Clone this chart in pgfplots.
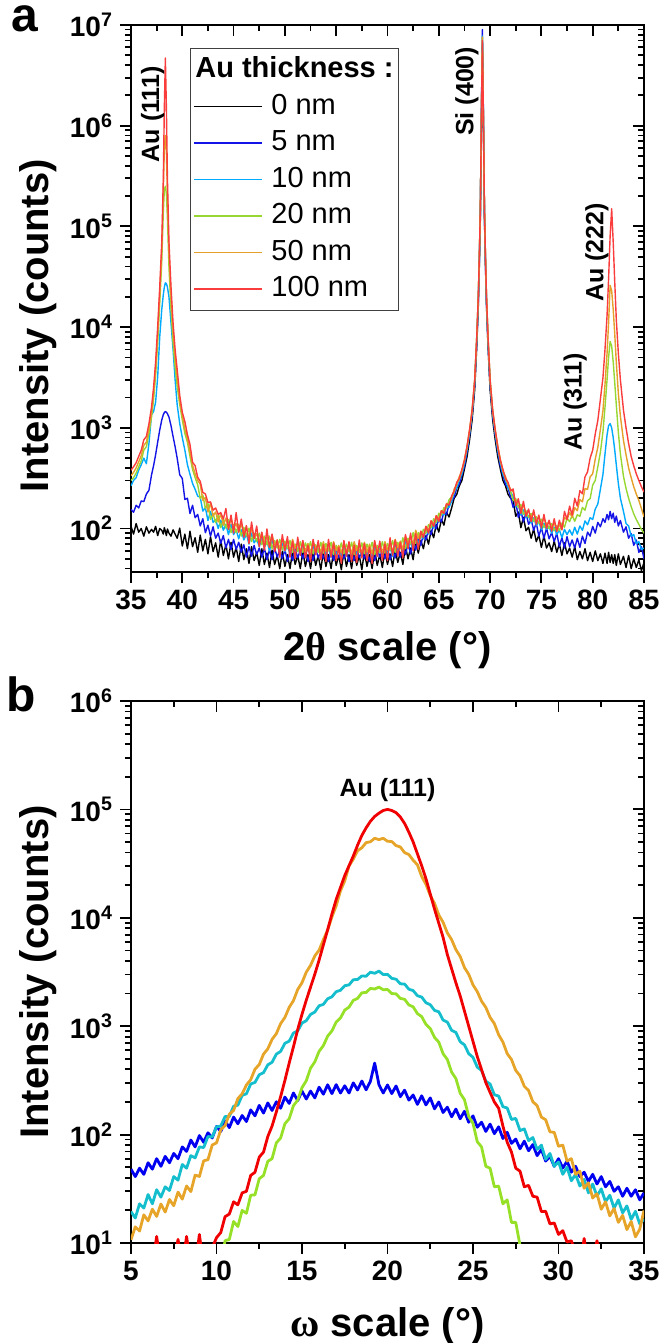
\documentclass[border=0pt]{standalone}
\usepackage{fontspec}
\setmainfont{Liberation Sans}
\newfontfamily\grk{Liberation Serif}
\usepackage{pgfplots}
\usepackage{pgfplotstable}
\pgfplotsset{compat=1.18}

% panel a colours
\definecolor{colAzero}{RGB}{0,0,0}
\definecolor{colAfive}{RGB}{20,20,230}
\definecolor{colAten}{RGB}{0,170,255}
\definecolor{colAtwenty}{RGB}{150,215,50}
\definecolor{colAfifty}{RGB}{228,160,40}
\definecolor{colAhundred}{RGB}{250,60,60}
% panel b colours
\definecolor{colBfive}{RGB}{0,0,240}
\definecolor{colBten}{RGB}{20,190,205}
\definecolor{colBtwenty}{RGB}{150,225,40}
\definecolor{colBfifty}{RGB}{230,165,40}
\definecolor{colBhundred}{RGB}{240,0,0}

\newcommand\tickfont{\fontsize{14}{16}\selectfont\bfseries}
\newcommand\labfont{\fontsize{20}{24}\selectfont\bfseries}
\newcommand\annfont{\fontsize{12.5}{15}\selectfont\bfseries}

% 2theta scan: 0, 5, 10, 20, 50, 100 nm
\pgfplotstableread{
x k b c g o r
35.00 105 155 265 300 335 380
35.25 88 145 300 320 360 410
35.50 112 170 320 355 400 450
35.75 92 160 380 410 460 520
36.00 100 188 430 470 530 600
36.25 84 185 500 600 670 760
36.50 104 220 440 650 720 820
36.75 90 240 700 880 970 1100
37.00 98 340 1350 1280 1410 1600
37.20 92 420 1450 1900 2200 2500
37.40 105 540 1800 3300 3900 4500
37.60 85 720 3200 7000 8500 10000
37.80 100 950 8000 17000 21000 25000
38.00 96 1200 15000 45000 58000 70000
38.15 88 1350 21000 140000 220000 300000
38.25 102 1420 25000 230000 600000 1500000
38.35 94 1450 27500 250000 800000 4700000
38.45 85 1430 27000 210000 550000 1500000
38.55 99 1380 25000 120000 200000 300000
38.70 90 1280 20000 40000 55000 70000
38.90 84 1050 11000 15000 20000 25000
39.10 97 820 6000 7000 9000 11000
39.30 88 650 3000 4000 5000 6000
39.50 80 500 1700 2600 3200 3800
39.75 101 342 1100 1700 1850 2100
40.00 67 314 800 1200 1320 1425
40.25 88 194 600 880 970 1155
40.50 63 200 430 720 790 855
40.75 94 141 345 520 575 683
41.00 66 170 280 385 425 456
41.25 81 128 245 320 350 420
41.50 58 138 210 272 300 323
41.75 86 106 204 198 276 294
42.00 60 125 149 215 191 228
42.25 78 91 161 158 203 221
42.50 56 108 120 177 146 181
42.75 83 84 148 123 179 184
43.00 59 104 115 140 133 152
43.25 72 80 123 114 146 160
43.50 52 90 100 136 116 138
43.75 77 71 121 102 141 144
44.00 54 85 96 123 108 124
44.25 69 64 110 101 127 158
44.50 50 78 87 123 99 98
44.75 73 62 110 91 128 136
45.00 52 78 87 110 101 90
45.25 65 62 97 91 112 144
45.50 47 73 79 110 92 92
45.75 70 58 97 84 113 124
46.00 49 69 77 103 88 82
46.25 63 52 88 84 103 107
46.50 45 66 70 101 79 71
46.75 66 53 90 74 101 116
47.00 48 68 72 89 80 79
47.25 58 55 79 74 89 106
47.50 43 64 66 90 73 66
47.75 63 52 80 69 91 92
48.00 44 64 65 84 71 61
48.25 57 49 75 69 84 99
48.50 41 62 60 84 65 65
48.75 61 49 77 63 86 88
49.00 44 64 63 76 68 59
49.25 54 52 70 64 77 77
49.50 40 61 58 78 63 52
49.75 59 50 72 61 80 87
50.00 42 62 59 75 63 60
50.25 55 47 68 63 75 83
50.50 40 59 55 76 59 52
50.75 60 48 71 58 78 75
51.00 44 63 58 70 63 50
51.25 54 51 64 59 70 82
51.50 40 61 55 74 59 54
51.75 59 50 68 58 75 76
52.00 42 62 55 72 59 51
52.25 55 47 65 60 71 68
52.50 40 59 52 74 57 47
52.75 60 48 68 56 75 78
53.00 43 63 56 69 61 55
53.25 54 51 63 58 69 76
53.50 39 60 54 73 58 49
53.75 59 50 67 57 74 69
54.00 42 62 55 71 59 47
54.25 55 47 64 60 70 78
54.50 40 59 52 73 56 52
54.75 60 48 67 55 74 72
55.00 43 63 55 68 60 48
55.25 54 51 62 58 68 65
55.50 39 60 53 72 57 45
55.75 59 50 66 56 73 76
56.00 42 62 54 70 58 53
56.25 55 47 64 59 70 74
56.50 40 59 52 73 56 47
56.75 60 48 67 55 74 68
57.00 43 63 55 68 60 46
57.25 54 51 62 58 68 77
57.50 39 60 53 72 57 51
57.75 59 50 66 56 73 71
58.00 42 62 54 70 58 48
58.25 55 47 64 59 70 65
58.50 40 59 52 73 56 45
58.75 60 48 67 55 74 76
59.00 43 63 55 68 60 53
59.25 55 52 63 58 69 75
59.50 41 61 54 74 58 48
59.75 60 50 67 57 74 70
60.00 44 64 56 71 61 48
60.25 56 49 65 61 72 81
60.50 42 62 53 76 58 54
60.75 62 51 70 58 78 77
61.00 46 68 59 73 64 53
61.25 58 52 68 63 75 73
61.50 44 66 57 81 62 51
61.75 67 55 75 63 84 87
62.00 50 72 63 80 70 63
62.25 64 56 73 70 82 90
62.50 49 72 62 91 70 60
62.75 76 61 83 71 96 89
63.00 57 83 70 91 80 62
63.25 76 68 86 81 94 94
63.50 63 89 79 98 86 81
63.75 85 77 96 90 105 105
64.00 70 99 88 109 96 90
64.25 96 87 109 102 119 119
64.50 81 113 101 125 110 104
64.75 110 99 124 115 134 134
65.00 92 129 115 142 125 117
65.25 123 116 140 136 151 150
65.50 108 146 136 161 146 141
65.75 145 137 165 160 177 175
66.00 130 175 162 193 176 171
66.25 160 186 188 206 198 210
66.50 200 205 230 230 246 236
66.75 218 252 255 280 272 287
67.00 265 275 305 308 328 315
67.25 300 340 350 375 372 386
67.50 390 415 450 465 485 476
67.75 515 575 600 640 645 655
68.00 760 840 885 930 950 955
68.25 1200 1320 1400 1470 1500 1500
68.50 2400 2650 2800 2950 3000 3000
68.70 6400 7000 7400 7800 8000 8000
68.85 16000 17600 18600 19600 20000 20000
68.95 40000 44000 46500 49000 50000 50000
69.05 120000 132000 140000 147000 150000 150000
69.15 1000000 1300000 1200000 1150000 1200000 1150000
69.25 6500000 9000000 7800000 7400000 7600000 7000000
69.35 1000000 1300000 1200000 1150000 1200000 1150000
69.45 120000 132000 140000 147000 150000 150000
69.55 40000 44000 46500 49000 50000 50000
69.65 16000 17600 18600 19600 20000 20000
69.80 6400 7000 7400 7800 8000 8000
70.00 2400 2650 2800 2950 3000 3000
70.25 1200 1320 1400 1470 1500 1500
70.50 760 840 885 930 950 955
70.75 515 575 600 640 645 655
71.00 390 415 450 465 485 476
71.25 300 340 350 375 372 386
71.50 265 275 305 308 328 315
71.75 218 252 255 280 272 287
72.00 200 205 230 230 246 236
72.25 190 162 208 190 232 247
72.50 132 185 164 198 181 168
72.75 146 129 170 162 191 198
73.00 102 151 136 174 153 141
73.25 129 116 153 138 172 186
73.50 95 144 128 150 141 132
73.75 103 110 134 129 151 156
74.00 80 123 113 141 127 117
74.25 99 96 128 117 144 153
74.50 74 114 107 131 119 110
74.75 86 84 118 112 131 136
75.00 65 102 97 124 109 101
75.25 84 80 113 102 128 138
75.50 64 101 98 113 107 100
75.75 72 79 104 100 118 121
76.00 59 91 90 112 101 94
76.25 75 74 103 95 114 125
76.50 58 90 87 107 97 93
76.75 70 66 97 95 109 121
77.00 54 81 81 113 98 97
77.25 72 64 98 103 129 148
77.50 56 83 87 126 122 123
77.75 64 66 97 117 145 167
78.00 52 77 86 135 129 136
78.25 66 64 103 118 161 200
78.50 49 80 88 137 150 167
78.75 59 65 106 132 194 238
79.00 50 84 96 162 184 221
79.25 63 71 119 152 249 326
79.50 48 92 109 189 245 365
79.75 58 84 128 198 326 500
80.00 47 105 123 270 350 600
80.25 60 90 156 300 490 870
80.50 48 115 175 410 640 1180
80.75 56 104 245 570 960 1920
81.00 45 125 345 910 1480 3150
81.20 57 115 550 1600 2700 6000
81.40 45 138 850 3000 5500 13000
81.55 58 122 1050 5000 11000 30000
81.70 46 148 1100 7200 26000 80000
81.85 55 125 1000 6500 23000 150000
82.00 45 142 800 4500 15000 70000
82.15 55 115 600 2800 8500 28000
82.30 43 133 430 1700 4500 12000
82.50 56 106 280 900 2200 5500
82.70 44 120 200 550 1300 3000
83.00 53 92 148 330 750 1500
83.25 41 104 112 250 540 1000
83.50 54 80 106 200 400 700
83.75 40 89 84 165 320 520
84.00 50 68 87 140 260 420
84.25 41 77 71 123 220 350
84.50 49 58 74 110 190 300
84.75 38 66 62 98 158 260
85.00 46 50 64 90 130 230
}\tabA

% omega scan: 5, 10, 20, 50, 100 nm
\pgfplotstableread{
w b c g o r
5.00 48 19.5 6 10.7 6
5.25 41 17 6 14.1 6
5.50 49 23 6 12.9 6
5.75 43 21 6 18.2 6
6.00 55 28 6 16 6
6.25 48 23 6 20.5 6
6.50 60 31 6 17.6 11.5
6.75 51 26.5 6 22.9 6
7.00 63 33 6 19.3 6
7.25 55 30.5 6 25.2 6
7.50 67 41 6 22.1 6
7.75 60 38 6 29.5 10.8
8.00 77 53 6 25.4 6
8.25 70 49 6 33.6 11.5
8.50 89 64 6 29.8 6
8.75 77 61 6 42.3 6
9.00 98 77 6 41.1 12
9.25 85 76 6 57.3 6
9.50 104 96 6 58.7 8
9.75 93 95 6 80.2 9
10.00 119 118 6 83.8 11.2
10.25 107 120 6 111 12.5
10.50 134 147 10.5 121 17.5
10.75 116 147 10.8 154 18.5
11.00 145 183 15.8 167 24
11.25 126 187 14.2 215 22.5
11.50 150 230 20 238 29
11.75 132 238 18.8 287 30
12.00 169 293 27.6 321 42
12.25 149 303 27.8 401 45
12.50 186 357 39.2 443 62
12.75 158 373 42 553 69
13.00 196 440 56.7 618 96
13.25 167 465 60 756 120
13.50 201 553 84 854 162
13.75 175 585 93 1056 224
14.00 222 696 126 1205 316
14.25 194 727 140 1491 457
14.50 242 866 185 1723 646
14.75 206 905 208 2181 933
15.00 252 1068 271 2519 1288
15.25 213 1125 314 3152 1738
15.50 252 1284 410 3641 2291
15.75 218 1352 469 4452 3020
16.00 274 1544 587 5026 4074
16.25 236 1590 662 6289 5623
16.50 288 1793 810 7695 7762
16.75 239 1867 905 10200 10839
17.00 289 2083 1093 12919 14791
17.25 242 2144 1192 17726 19055
17.50 282 2363 1408 21939 24547
17.75 242 2406 1500 30102 30200
18.00 300 2683 1732 34771 37154
18.25 258 2699 1804 41553 46774
18.50 312 2908 2035 44282 57544
18.75 259 2892 2047 49385 67608
19.00 310 3152 2232 50260 77625
19.25 457 3078 2204 54150 86099
19.50 289 3225 2294 52629 92257
19.75 242 2994 2169 54150 97724
20.00 287 3010 2181 50843 100000
20.25 239 2762 2001 50536 97724
20.50 281 2714 1989 46369 93325
20.75 224 2462 1804 45040 85114
21.00 257 2447 1773 39923 74131
21.25 208 2194 1571 38336 61660
21.50 232 2131 1509 33981 50119
21.75 190 1911 1307 30804 38905
22.00 228 1856 1226 24056 30200
22.25 188 1645 1038 20352 22909
22.50 218 1580 952 16078 16596
22.75 173 1400 788 13602 12023
23.00 200 1358 713 10622 8913
23.25 160 1140 558 9091 6607
23.50 179 1091 493 7265 4571
23.75 146 916 377 6289 3388
24.00 172 877 329 5084 2512
24.25 140 719 241 4401 1905
24.50 164 673 210 3477 1380
24.75 130 558 147 3010 1000
25.00 149 516 127 2406 724
25.25 117 419 86 2083 525
25.50 130 391 77 1703 398
25.75 107 311 51 1491 302
26.00 125 293 49 1205 245
26.25 102 233 33 1056 200
26.50 118 227 33.5 834 175
26.75 92 181 23 714 120
27.00 105 176 25 558 85
27.25 83 138 15.5 493 69
27.50 91 141 15.5 391 49
27.75 74 109 9.5 349 46
28.00 87 113 8 279 33
28.25 71 88 6 255 34
28.50 81 94 6 201 27
28.75 64 73 6 185 26.5
29.00 73 80 6 145 19.5
29.25 57 59 6 137 19.6
29.50 63 67 6 106 15
29.75 51 51 6 105 15.3
30.00 60 56 6 78 12
30.25 49 43 6 80 13
30.50 57 50 6 57 10.2
30.75 45 37.5 6 60 10.5
31.00 51 43 6 43 8
31.25 41 33.5 6 46 6
31.50 45 38.6 6 32 11
31.75 37 29 6 36 6
32.00 43 35 6 26 7
32.25 35 27 6 28.5 10.5
32.50 41 31.6 6 20.5 6
32.75 33 24 6 24 6
33.00 37 27.6 6 17.8 6
33.25 30 21 6 20.8 6
33.50 33 25 6 15.5 6
33.75 27 19 6 18 6
34.00 32 22 6 13.3 6
34.25 27 16.5 6 15.8 6
34.50 31 19.6 6 11.4 6
34.75 25 15 6 13.4 6
35.00 29 16.6 6 20 6
}\tabB

\pgfplotsset{every axis/.append style={
    scale only axis, width=256.5pt, anchor=south west,
    ymode=log, no markers, clip mode=individual,
    minor x tick num=1,
    major tick length=5.5pt, minor tick length=3pt,
    tick style={black, line width=0.9pt},
    axis line style={line width=1pt},
    ticklabel style={font=\tickfont},
    /pgf/number format/assume math mode=true,
}}

\begin{document}
\begin{tikzpicture}

% ---------- panel a: frame with inward ticks on top and right ----------
\begin{axis}[at={(0,0)}, height=273.5pt,
  xmin=35, xmax=85, ymin=37, ymax=1e7,
  xtick={35,40,...,85},
  ytick={1e2,1e3,1e4,1e5,1e6,1e7},
  minor ytick={40,50,60,70,80,90,200,300,400,500,600,700,800,900,2000,3000,4000,5000,6000,7000,8000,9000,2e4,3e4,4e4,5e4,6e4,7e4,8e4,9e4,2e5,3e5,4e5,5e5,6e5,7e5,8e5,9e5,2e6,3e6,4e6,5e6,6e6,7e6,8e6,9e6},
  tick align=inside, tick pos=right, xticklabels={}, yticklabels={}]
\end{axis}

% ---------- panel a: data ----------
\begin{axis}[at={(0,0)}, height=273.5pt,
  xmin=35, xmax=85, ymin=37, ymax=1e7,
  xtick={35,40,...,85},
  ytick={1e2,1e3,1e4,1e5,1e6,1e7},
  minor ytick={40,50,60,70,80,90,200,300,400,500,600,700,800,900,2000,3000,4000,5000,6000,7000,8000,9000,2e4,3e4,4e4,5e4,6e4,7e4,8e4,9e4,2e5,3e5,4e5,5e5,6e5,7e5,8e5,9e5,2e6,3e6,4e6,5e6,6e6,7e6,8e6,9e6},
  tick align=outside, tick pos=left,
  yticklabels={10\textsuperscript{2},10\textsuperscript{3},10\textsuperscript{4},10\textsuperscript{5},10\textsuperscript{6},10\textsuperscript{7}},
  legend style={at={(axis description cs:0.115,0.958)}, anchor=north west,
    draw=black!75, line width=0.6pt, fill=white,
    font=\fontsize{14.5}{17}\selectfont,
    inner xsep=1.5pt, inner ysep=3pt, row sep=2.75pt, column sep=3pt,
    nodes={inner sep=1pt, text height=10.5pt, text depth=3pt}},
  legend cell align=left,
  legend image code/.code={\draw[#1, line width=0.9pt] (0pt,0pt) -- (34pt,0pt);},
]
\addlegendimage{empty legend}
\addlegendentry{\hspace*{-38pt}\textbf{Au thickness :}}
\addplot[color=colAzero, line width=0.7pt, line join=round] table[x=x, y=k] {\tabA};
\addlegendentry{0 nm}
\addplot[color=colAfive, line width=0.7pt, line join=round] table[x=x, y=b] {\tabA};
\addlegendentry{5 nm}
\addplot[color=colAten, line width=0.7pt, line join=round] table[x=x, y=c] {\tabA};
\addlegendentry{10 nm}
\addplot[color=colAtwenty, line width=0.7pt, line join=round] table[x=x, y=g] {\tabA};
\addlegendentry{20 nm}
\addplot[color=colAfifty, line width=0.7pt, line join=round] table[x=x, y=o] {\tabA};
\addlegendentry{50 nm}
\addplot[color=colAhundred, line width=0.7pt, line join=round] table[x=x, y=r] {\tabA};
\addlegendentry{100 nm}

\node[rotate=90, font=\annfont] at (axis cs:37.1,1.3e6) {Au (111)};
\node[rotate=90, font=\annfont] at (axis cs:67.75,2.2e6) {Si (400)};
\node[rotate=90, font=\annfont] at (axis cs:80.4,5.5e4) {Au (222)};
\node[rotate=90, font=\annfont] at (axis cs:78.3,1800) {Au (311)};

\node[rotate=90, font=\labfont] at ([xshift=-46.5pt]axis description cs:0,0.45) {Intensity (counts)};
\node[font=\labfont] at ([yshift=-39pt]axis description cs:0.5,0) {2{\grk\bfseries θ} scale (°)};
\node[font=\fontsize{24}{28}\selectfont\bfseries, inner sep=0pt, anchor=base] at ([xshift=-53pt,yshift=-3.5pt]axis description cs:0,1) {a};
\end{axis}

% ---------- panel b: frame ----------
\begin{axis}[at={(0,-335.5pt)}, height=271pt,
  xmin=5, xmax=35, ymin=10, ymax=1e6,
  xtick={5,10,...,35},
  ytick={1e1,1e2,1e3,1e4,1e5,1e6},
  minor ytick={20,30,40,50,60,70,80,90,200,300,400,500,600,700,800,900,2000,3000,4000,5000,6000,7000,8000,9000,2e4,3e4,4e4,5e4,6e4,7e4,8e4,9e4,2e5,3e5,4e5,5e5,6e5,7e5,8e5,9e5},
  tick align=inside, tick pos=right, xticklabels={}, yticklabels={}]
\end{axis}

% ---------- panel b: data ----------
\begin{axis}[at={(0,-335.5pt)}, height=271pt,
  xmin=5, xmax=35, ymin=10, ymax=1e6,
  xtick={5,10,...,35},
  ytick={1e1,1e2,1e3,1e4,1e5,1e6},
  minor ytick={20,30,40,50,60,70,80,90,200,300,400,500,600,700,800,900,2000,3000,4000,5000,6000,7000,8000,9000,2e4,3e4,4e4,5e4,6e4,7e4,8e4,9e4,2e5,3e5,4e5,5e5,6e5,7e5,8e5,9e5},
  tick align=outside, tick pos=left,
  yticklabels={10\textsuperscript{1},10\textsuperscript{2},10\textsuperscript{3},10\textsuperscript{4},10\textsuperscript{5},10\textsuperscript{6}},
]
\addplot[color=colBfive, line width=1.4pt, line join=round] table[x=w, y=b] {\tabB};
\addplot[color=colBten, line width=1.4pt, line join=round] table[x=w, y=c] {\tabB};
\addplot[color=colBfifty, line width=1.4pt, line join=round] table[x=w, y=o] {\tabB};
\addplot[color=colBtwenty, line width=1.4pt, line join=round] table[x=w, y=g] {\tabB};
\addplot[color=colBhundred, line width=1.4pt, line join=round] table[x=w, y=r] {\tabB};

\node[font=\annfont] at (axis cs:20,1.5e5) {Au (111)};

\node[rotate=90, font=\labfont] at ([xshift=-46.5pt]axis description cs:0,0.5) {Intensity (counts)};
\node[font=\labfont] at ([yshift=-41.5pt]axis description cs:0.5,0) {{\grk\bfseries ω} scale (°)};
\node[font=\fontsize{24}{28}\selectfont\bfseries] at ([xshift=-55pt,yshift=3.5pt]axis description cs:0,1) {b};
\end{axis}

\pgfresetboundingbox
\path[use as bounding box] (-65.5pt,-385.5pt) rectangle (266pt,286pt);
\end{tikzpicture}
\end{document}
